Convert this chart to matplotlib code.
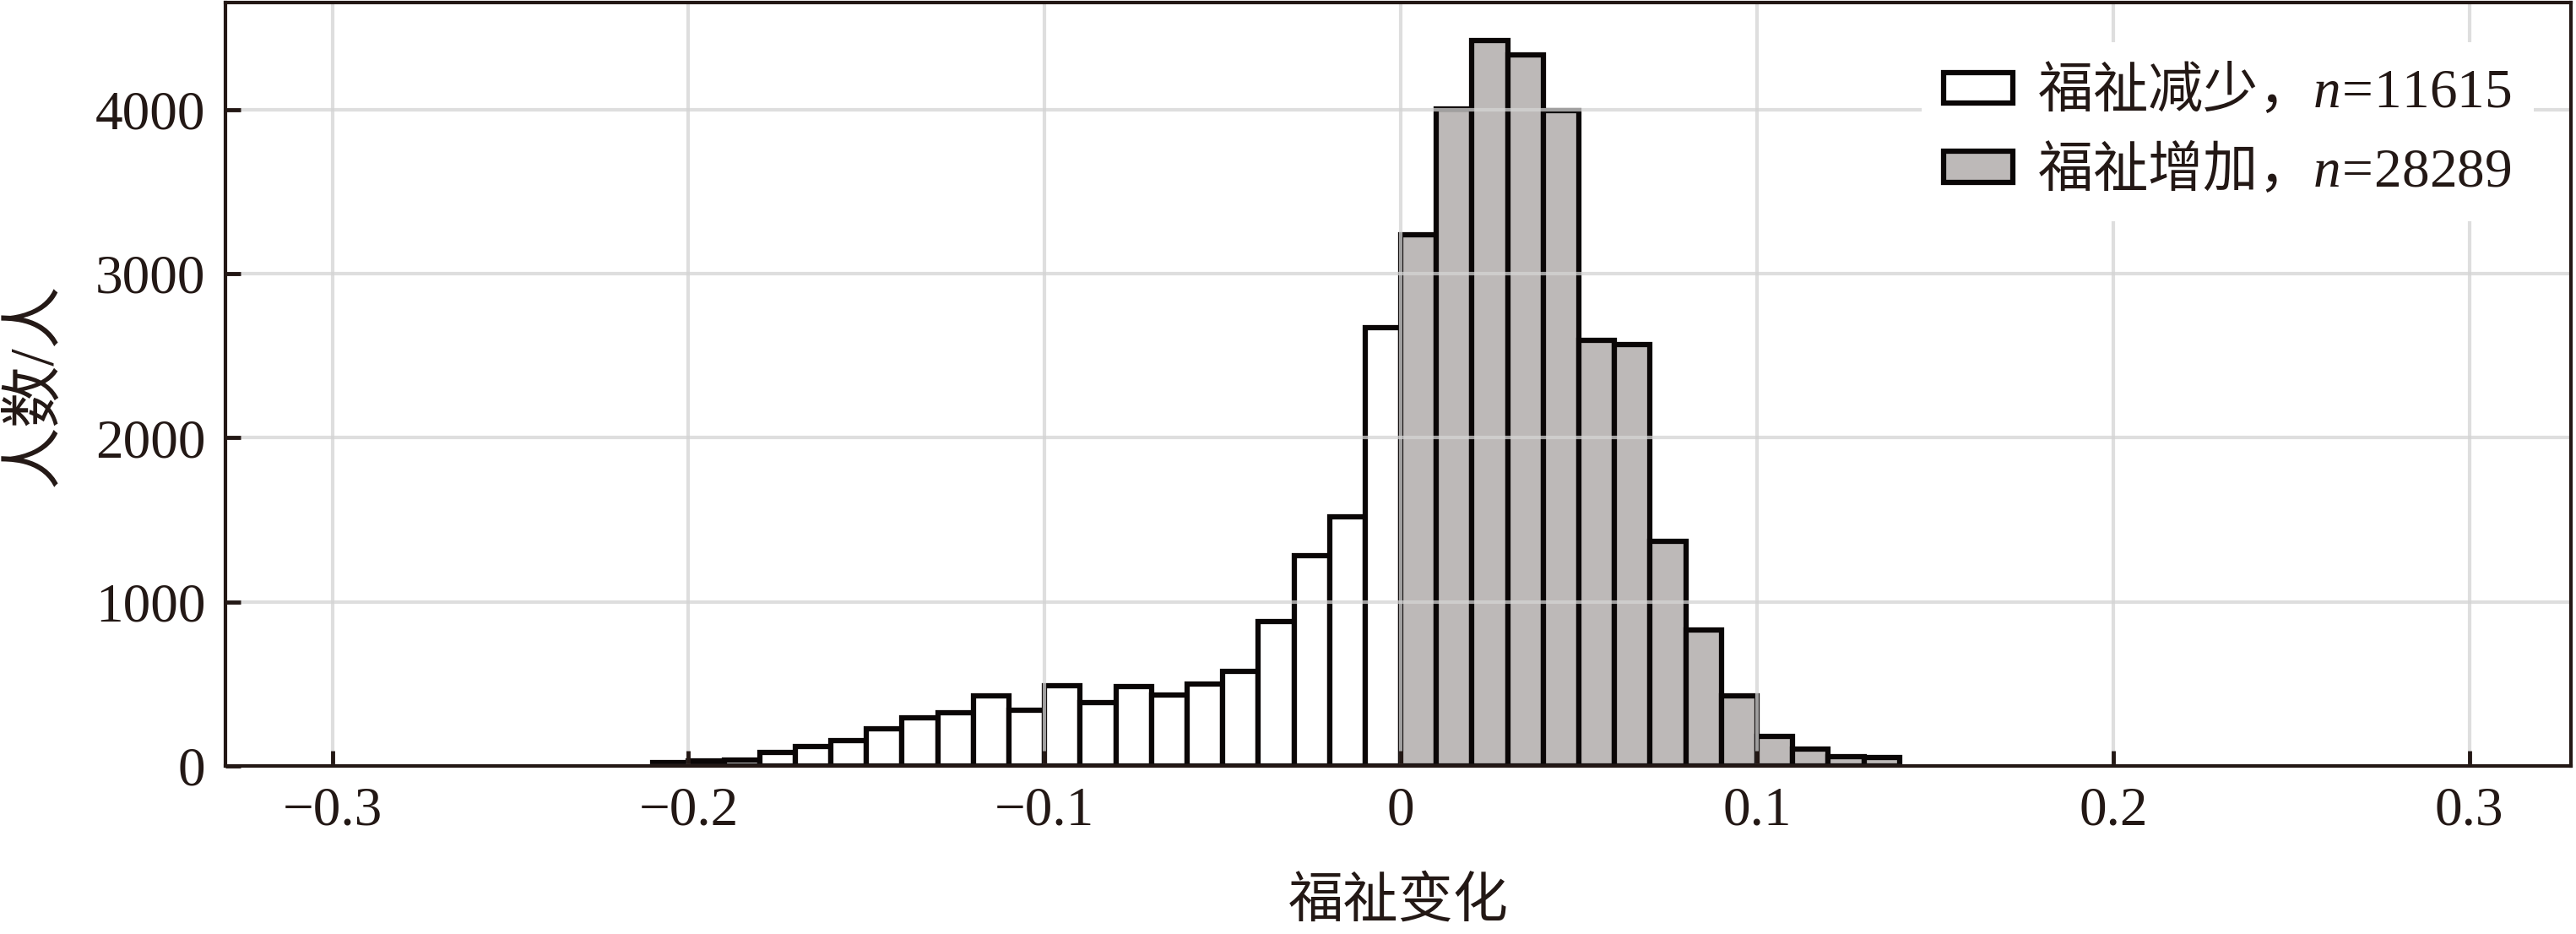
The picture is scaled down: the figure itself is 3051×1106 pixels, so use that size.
import matplotlib
matplotlib.use("Agg")
import matplotlib.pyplot as plt
from matplotlib import ticker

plt.rcParams["font.family"] = ["Liberation Serif", "Noto Sans CJK SC"]
plt.rcParams["mathtext.fontset"] = "custom"
plt.rcParams["mathtext.rm"] = "Liberation Serif"
plt.rcParams["mathtext.it"] = "Liberation Serif:italic"
plt.rcParams["axes.unicode_minus"] = True

# Histogram data (bin width 0.01)
bin_width = 0.01
loss_counts = [18, 28, 38, 84, 119, 154, 228, 293, 323, 428, 339, 491,
               386, 482, 430, 498, 575, 882, 1281, 1520, 2670]
gain_counts = [3235, 4005, 4420, 4335, 3995, 2595, 2565, 1370, 828, 425,
               180, 102, 58, 52]
# left edges of the bins: loss bins end at 0, gain bins start at 0
loss_edges = [round(-bin_width * (len(loss_counts) - i), 2) for i in range(len(loss_counts))]
gain_edges = [round(bin_width * i, 2) for i in range(len(gain_counts))]

loss_label = "福祉减少，$n\\!=\\!11615$"
gain_label = "福祉增加，$n\\!=\\!28289$"
x_ticks = [-0.3, -0.2, -0.1, 0.0, 0.1, 0.2, 0.3]
x_tick_labels = ["\u22120.3", "\u22120.2", "\u22120.1", "0", "0.1", "0.2", "0.3"]
y_ticks = [0, 1000, 2000, 3000, 4000]

edge = "#0a0606"
gain_fill = "#bdb9b8"
ink = "#231815"
fs = 47

fig = plt.figure(figsize=(30.51, 11.06), dpi=100)
ax = fig.add_axes([0.0875, 0.18, 0.9105, 0.817])

ax.bar(loss_edges, loss_counts, width=bin_width, align="edge",
       facecolor="white", edgecolor=edge, linewidth=4.5, label=loss_label, zorder=2)
ax.bar(gain_edges, gain_counts, width=bin_width, align="edge",
       facecolor=gain_fill, edgecolor=edge, linewidth=4.5, label=gain_label, zorder=2)

ax.set_xlim(-0.33, 0.3285)
ax.set_ylim(0, 4650)
ax.xaxis.set_major_locator(ticker.FixedLocator(x_ticks))
ax.set_xticklabels(x_tick_labels)
ax.yaxis.set_major_locator(ticker.FixedLocator(y_ticks))

ax.grid(True, color="#d4d4d4", linewidth=3, alpha=0.75)
ax.set_axisbelow(False)
for line in ax.get_xgridlines() + ax.get_ygridlines():
    line.set_zorder(3)

ax.tick_params(axis="both", direction="in", length=13, width=3.5,
               color=ink, labelsize=fs, labelcolor=ink)
ax.tick_params(axis="y", pad=17)
ax.tick_params(axis="x", pad=17)
for s in ax.spines.values():
    s.set_linewidth(3)
    s.set_color(ink)
    s.set_zorder(4)

ax.set_xlabel("福祉变化", fontsize=fs, color=ink, labelpad=35)
ax.set_ylabel("人数/人", fontsize=53, color=ink, labelpad=26)

leg = ax.legend(loc="upper right", bbox_to_anchor=(0.996, 0.985),
                prop={"family": "Noto Sans CJK SC", "size": fs},
                frameon=True, edgecolor="none", facecolor="white", framealpha=1,
                handlelength=1.26, handleheight=0.48, handletextpad=0.45,
                labelspacing=0.41, borderpad=0.4)
leg.set_zorder(5)
for t in leg.get_texts():
    t.set_color(ink)

fig.savefig("out.png", dpi=100)
